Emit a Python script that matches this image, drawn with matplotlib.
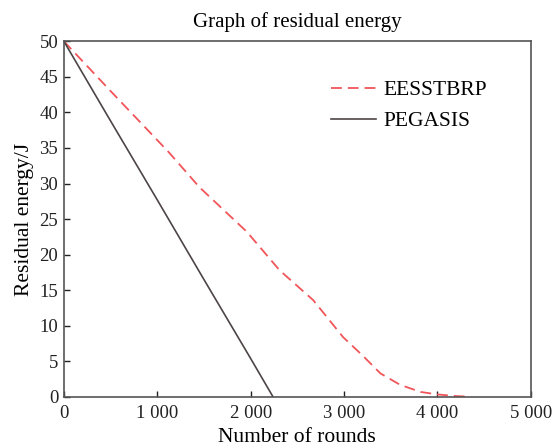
import matplotlib.pyplot as plt
import numpy as np

# Values
eess_rounds = [0, 500, 1000, 1130, 1450, 1960, 2310, 2670, 2990, 3200, 3390, 3600, 3820, 4000, 4200, 4350]
eess_energy = [50, 43.0, 36.1, 34.3, 29.5, 23.2, 17.8, 13.6, 8.4, 5.8, 3.3, 1.7, 0.7, 0.35, 0.12, 0.03]

peg_rounds = [0, 500, 1000, 1500, 2000, 2240]
peg_energy = [50, 38.8, 27.7, 16.5, 5.4, 0]

xticks = [0, 1000, 2000, 3000, 4000, 5000]
xtick_labels = ['0', '1 000', '2 000', '3 000', '4 000', '5 000']
yticks = [0, 5, 10, 15, 20, 25, 30, 35, 40, 45, 50]

plt.rcParams['font.family'] = ['Liberation Serif', 'DejaVu Serif']

fig = plt.figure(figsize=(5.6, 4.48), dpi=100)
ax = fig.add_axes([0.114, 0.114, 0.834, 0.794])

ax.plot(eess_rounds, eess_energy, color='#f0555a', linestyle=(0, (6, 3.3)), linewidth=1.3, label='EESSTBRP')
ax.plot(peg_rounds, peg_energy, color='#4d4545', linewidth=1.2, label='PEGASIS')

ax.set_xlim(0, 5000)
ax.set_ylim(0, 50)
ax.set_xticks(xticks)
ax.set_xticklabels(xtick_labels)
ax.set_yticks(yticks)
ax.tick_params(direction='in', length=4, width=1, labelsize=13.5, colors='#222222')
ax.tick_params(axis='x', pad=6)
ax.tick_params(axis='y', pad=4)
for s in ax.spines.values():
    s.set_color('#555555')
    s.set_linewidth(1.2)

ax.set_xlabel('Number of rounds', fontsize=15.5, labelpad=4)
ax.set_ylabel('Residual energy/J', fontsize=15.5, labelpad=4)
ax.set_title('Graph of residual energy', fontsize=15, pad=10)

ax.legend(loc='upper left', bbox_to_anchor=(0.571, 0.89), frameon=False, fontsize=15.5,
          borderpad=0, borderaxespad=0, handlelength=2.1, handletextpad=0.37, labelspacing=0.5)

fig.savefig('out.png', dpi=100)
